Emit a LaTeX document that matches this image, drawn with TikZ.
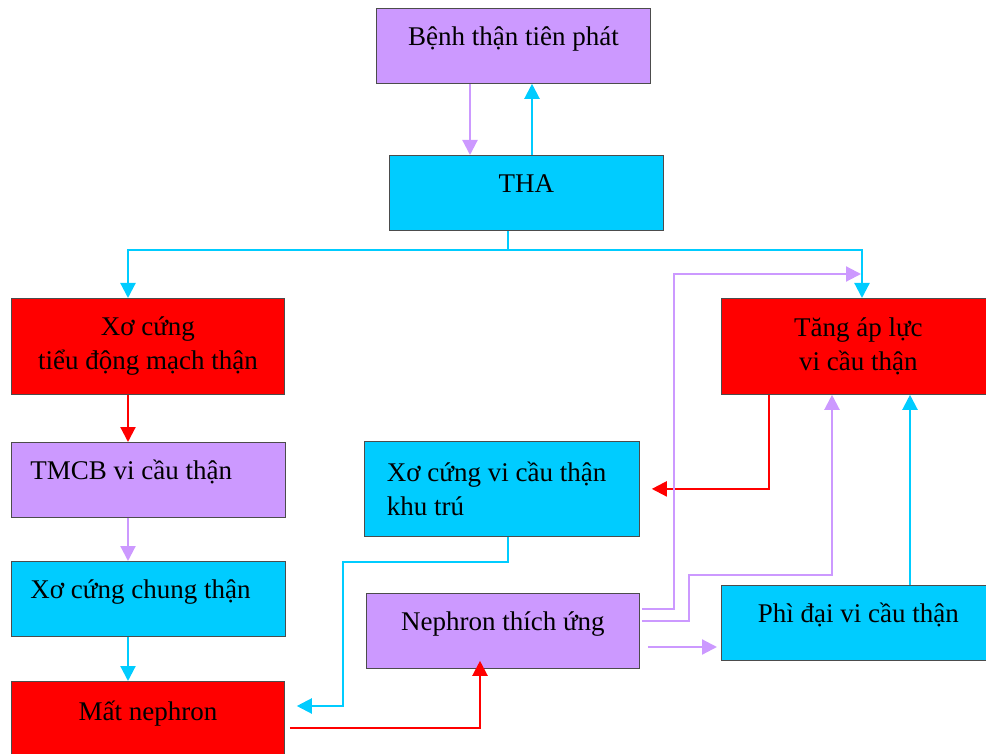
\documentclass[tikz,border=0pt]{standalone}
\usepackage{fontspec}
\setmainfont{Liberation Serif}
\usetikzlibrary{arrows.meta}
\definecolor{tim}{HTML}{CC99FF}
\definecolor{xanh}{HTML}{00CCFF}
\definecolor{do}{HTML}{FF0000}
\begin{document}
\begin{tikzpicture}[x=1pt,y=-1pt,
    hop/.style={draw=black!70,line width=0.8pt,rectangle,anchor=north west,inner sep=0pt,
        minimum width=274pt,minimum height=75pt,font=\fontsize{27}{34}\selectfont},
    mot/.style={text height=18pt,text depth=18pt},
    trai/.style={align=flush left,inner xsep=#1,text width=274pt-2*#1},
    mui/.style={line width=2.2pt,draw=#1,-{Triangle[length=15pt,width=15pt,fill=#1]}},
    duong/.style={line width=2.2pt,draw=#1}]
    \useasboundingbox (0,0) rectangle (986,754);
    \clip (0,0) rectangle (986,754);

    % cac o
    \node[hop,mot,fill=tim] (benh) at (376,8) {Bệnh thận tiên phát};
    \node[hop,mot,fill=xanh] (tha) at (389,155) {THA};
    \node[hop,fill=do,align=center,minimum height=96pt,minimum width=273pt] (xotd) at (11,298) {Xơ cứng\\tiểu động mạch thận};
    \node[hop,fill=do,align=center,minimum height=96pt] (tang) at (721,298) {Tăng áp lực\\vi cầu thận};
    \node[hop,mot,fill=tim,trai=19pt,minimum width=273pt] (tmcb) at (11,442) {TMCB vi cầu thận};
    \node[hop,mot,fill=xanh,trai=19pt,minimum width=273pt] (xoct) at (11,561) {Xơ cứng chung thận};
    \node[hop,mot,fill=do,minimum width=273pt,minimum height=78pt] (mat) at (11,681) {Mất nephron};
    \node[hop,fill=xanh,trai=22pt,minimum height=95pt,minimum width=275pt] (xovc) at (364,441) {Xơ cứng vi cầu thận\\khu trú};
    \node[hop,mot,fill=tim,minimum width=273pt] (neph) at (366,593) {Nephron thích ứng};
    \node[hop,mot,fill=xanh] (phi) at (721,585) {Phì đại vi cầu thận};

    % mui ten
    \draw[mui=tim] ([xshift=94]benh.south west) -- ([xshift=94]benh.south west |- tha.north);
    \draw[mui=xanh] ([xshift=143]tha.north west) -- ([xshift=143]tha.north west |- benh.south);
    \coordinate (tach) at (508,250);
    \draw[duong=xanh] ([xshift=119]tha.south west) -- (tach);
    \draw[mui=xanh] (tach) -| ([xshift=117]xotd.north west);
    \draw[mui=xanh] (tach) -| ([xshift=141]tang.north west);
    \draw[mui=do] ([xshift=117]xotd.south west) -- ([xshift=117]tmcb.north west);
    \draw[mui=tim] ([xshift=117]tmcb.south west) -- ([xshift=117]xoct.north west);
    \draw[mui=xanh] ([xshift=117]xoct.south west) -- ([xshift=117]mat.north west);
    \draw[mui=do] ([xshift=48]tang.south west) |- ([xshift=12]xovc.east);
    \draw[mui=xanh] ([xshift=144]xovc.south west) -- ++(0,25) -| ([xshift=58,yshift=-25]mat.north east)
        -- ([xshift=12,yshift=-25]mat.north east);
    \draw[mui=do] ([xshift=5,yshift=-47]mat.north east) -| ([xshift=114,yshift=8]neph.south west);
    \draw[mui=tim] ([xshift=2,yshift=-16]neph.north east) -- ++(32,0) |- ([xshift=140,yshift=24]tang.north west);
    \draw[mui=tim] ([xshift=2,yshift=-28]neph.north east) -- ++(47,0) -- ++(0,-46) -| ([xshift=111]tang.south west);
    \draw[mui=tim] ([xshift=8,yshift=-54]neph.north east) -- ([xshift=-4,yshift=-62]phi.north west);
    \draw[mui=xanh] ([xshift=189]phi.north west) -- ([xshift=189]tang.south west);
\end{tikzpicture}
\end{document}
